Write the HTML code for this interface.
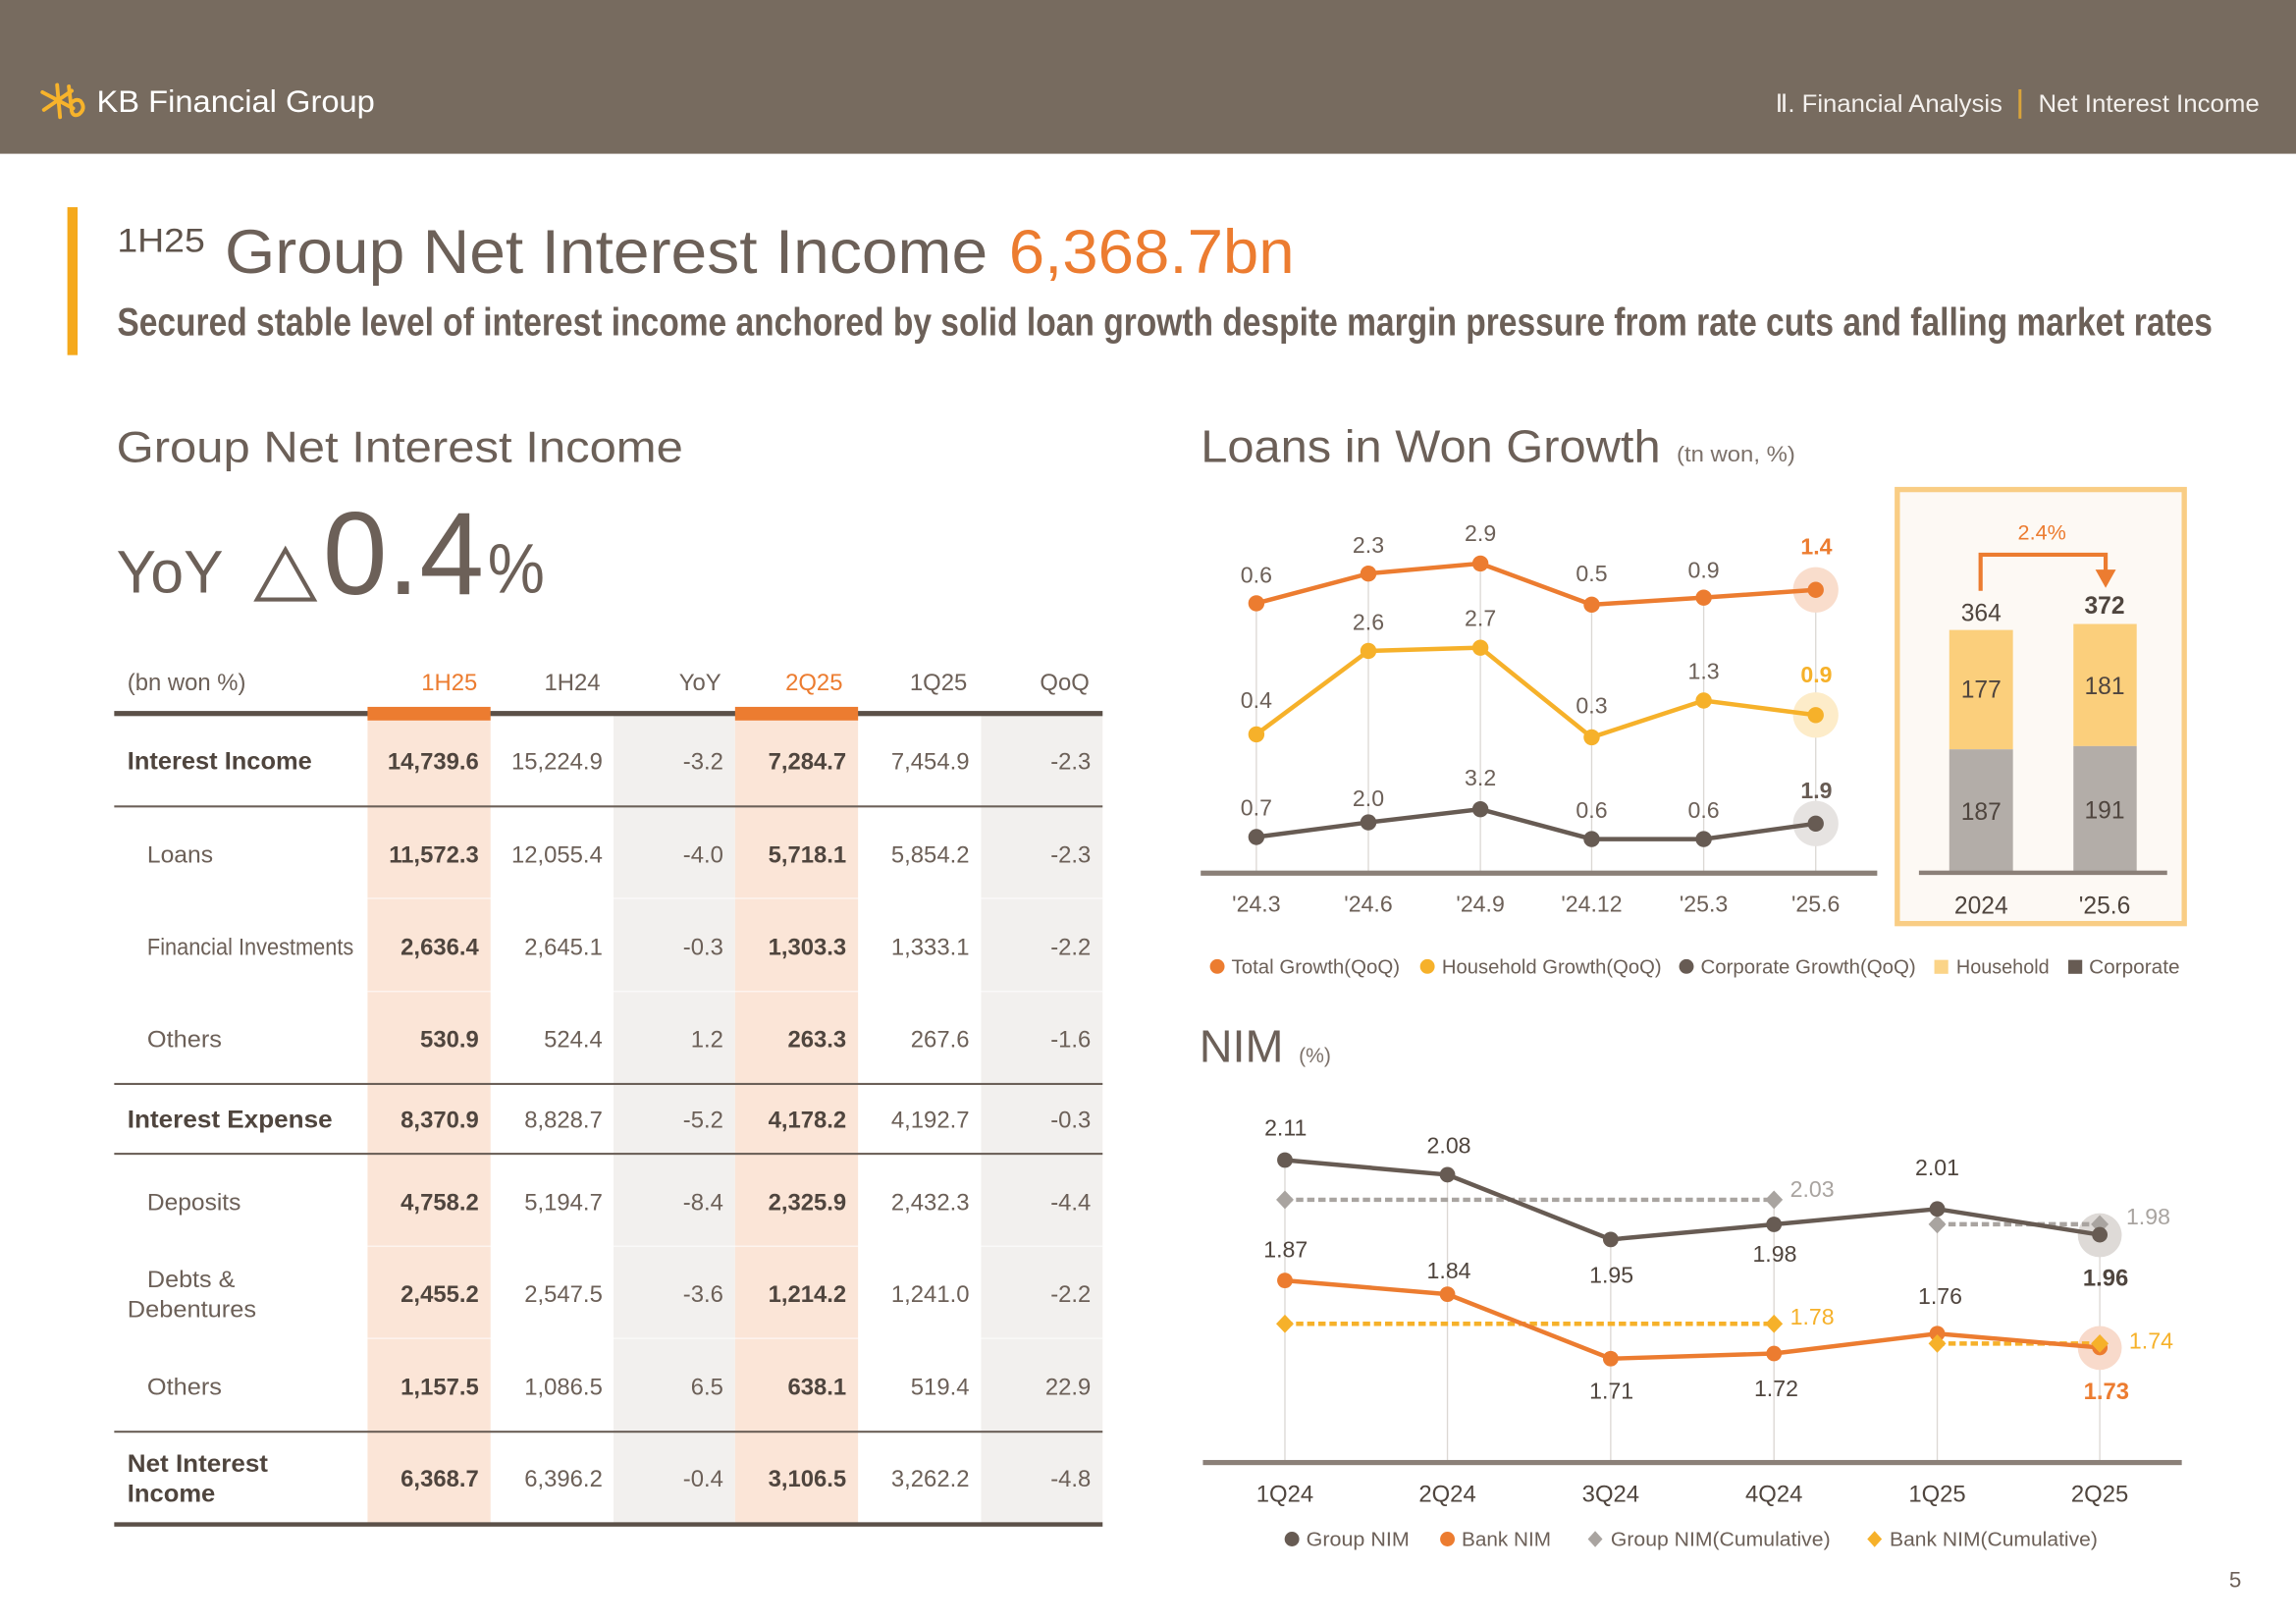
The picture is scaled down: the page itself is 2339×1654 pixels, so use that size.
<!DOCTYPE html>
<html><head><meta charset="utf-8"><title>KB Financial Group - Net Interest Income</title>
<style>
html,body{margin:0;padding:0;background:#fff;overflow:hidden;}
svg{display:block;}
text{font-family:"Liberation Sans",Arial,sans-serif;}
</style></head>
<body>
<svg xmlns="http://www.w3.org/2000/svg" width="2339" height="1654" viewBox="0 0 1568 1109" preserveAspectRatio="none">
<rect x="0" y="0" width="1568" height="1109" fill="#ffffff"/>
<!-- Header bar -->
<rect x="0" y="0" width="1568" height="105" fill="#776b5f"/>
<!-- logo star -->
<g stroke="#f7b32b" stroke-width="2.6" stroke-linecap="round" fill="none">
<line x1="39" y1="58" x2="41" y2="80"/>
<line x1="29" y1="63" x2="50" y2="74"/>
<line x1="30" y1="75" x2="49" y2="62"/>
<path d="M47 59 L49 76 Q50 80 54 78 Q59 74 55 69 Q52 67 49 70"/>
</g>
<text x="66" y="76.5" font-size="21" fill="#ffffff" textLength="190" lengthAdjust="spacingAndGlyphs">KB Financial Group</text>
<text x="1212.5" y="76.5" font-size="17" fill="#f4f1ee" textLength="155" lengthAdjust="spacingAndGlyphs">Ⅱ. Financial Analysis</text>
<rect x="1378.5" y="61" width="2" height="20" fill="#d9a43a"/>
<text x="1392" y="76.5" font-size="17" fill="#f4f1ee" textLength="151" lengthAdjust="spacingAndGlyphs">Net Interest Income</text>

<!-- Title -->
<rect x="46" y="141.5" width="7" height="101" fill="#f5a91c"/>
<text x="80" y="172" font-size="23" fill="#5f544c" textLength="60" lengthAdjust="spacingAndGlyphs">1H25</text>
<text x="153.5" y="186.5" font-size="42" fill="#6c6058" textLength="521" lengthAdjust="spacingAndGlyphs">Group Net Interest Income</text>
<text x="689" y="186.5" font-size="42" fill="#ec7c30" textLength="195" lengthAdjust="spacingAndGlyphs">6,368.7bn</text>
<text x="80" y="229" font-size="27" font-weight="bold" fill="#6c6058" textLength="1431" lengthAdjust="spacingAndGlyphs">Secured stable level of interest income anchored by solid loan growth despite margin pressure from rate cuts and falling market rates</text>

<!-- Left section heading -->
<text x="79.5" y="315.5" font-size="30" fill="#6c6058" textLength="387" lengthAdjust="spacingAndGlyphs">Group Net Interest Income</text>
<text x="79.5" y="404.5" font-size="41" fill="#6c6058" textLength="73" lengthAdjust="spacingAndGlyphs">YoY</text>
<text x="173" y="404.5" font-size="50" fill="#6c6058" textLength="44" lengthAdjust="spacingAndGlyphs">△</text>
<text x="220.5" y="405.5" font-size="80" fill="#6c6058" textLength="110" lengthAdjust="spacingAndGlyphs">0.4</text>
<text x="333" y="404.5" font-size="48" fill="#6c6058" textLength="39" lengthAdjust="spacingAndGlyphs">%</text>

<!-- Table bands -->
<rect x="251" y="487" width="84" height="553" fill="#fbe5d7"/>
<rect x="419" y="487" width="83" height="553" fill="#f2f0ee"/>
<rect x="502" y="487" width="84" height="553" fill="#fbe5d7"/>
<rect x="670" y="487" width="83" height="553" fill="#f2f0ee"/>
<g stroke="#ffffff" stroke-width="1" opacity="0.6">
<line x1="251" y1="613.5" x2="753" y2="613.5"/>
<line x1="251" y1="677" x2="753" y2="677"/>
<line x1="251" y1="851" x2="753" y2="851"/>
<line x1="251" y1="914" x2="753" y2="914"/>
</g>
<!-- Table lines -->
<rect x="78" y="485.5" width="675" height="3.5" fill="#5b5048"/>
<rect x="251" y="482.7" width="84" height="9.3" fill="#ec7c30"/>
<rect x="502" y="482.7" width="84" height="9.3" fill="#ec7c30"/>
<rect x="78" y="550" width="675" height="1.4" fill="#6b6058"/>
<rect x="78" y="739.5" width="675" height="1.4" fill="#6b6058"/>
<rect x="78" y="787.2" width="675" height="1.4" fill="#6b6058"/>
<rect x="78" y="977" width="675" height="1.4" fill="#6b6058"/>
<rect x="78" y="1039.5" width="675" height="3" fill="#5b5048"/>

<!-- Table header -->
<g font-size="16" fill="#6c6058">
<text x="87" y="471.5">(bn won %)</text>
<g text-anchor="end">
<text x="326" y="471.5" fill="#ec7c30">1H25</text>
<text x="410" y="471.5">1H24</text>
<text x="492.5" y="471.5">YoY</text>
<text x="575.5" y="471.5" fill="#ec7c30">2Q25</text>
<text x="660.5" y="471.5">1Q25</text>
<text x="744" y="471.5">QoQ</text>
</g>
</g>

<!-- Table labels -->
<g fill="#4f453e" font-size="17" font-weight="bold">
<text x="87" y="525.5" textLength="126" lengthAdjust="spacingAndGlyphs">Interest Income</text>
<text x="87" y="770" textLength="140" lengthAdjust="spacingAndGlyphs">Interest Expense</text>
<text x="87" y="1005" textLength="96" lengthAdjust="spacingAndGlyphs">Net Interest</text>
<text x="87" y="1025.5" textLength="60" lengthAdjust="spacingAndGlyphs">Income</text>
</g>
<g fill="#6c6058" font-size="16">
<text x="100.5" y="589" textLength="45" lengthAdjust="spacingAndGlyphs">Loans</text>
<text x="100.5" y="652" textLength="141" lengthAdjust="spacingAndGlyphs">Financial Investments</text>
<text x="100.5" y="715" textLength="51" lengthAdjust="spacingAndGlyphs">Others</text>
<text x="100.5" y="826.5" textLength="64" lengthAdjust="spacingAndGlyphs">Deposits</text>
<text x="100.5" y="879" textLength="60" lengthAdjust="spacingAndGlyphs">Debts &amp;</text>
<text x="87" y="899.5" textLength="88" lengthAdjust="spacingAndGlyphs">Debentures</text>
<text x="100.5" y="952.5" textLength="51" lengthAdjust="spacingAndGlyphs">Others</text>
</g>

<!-- Table numbers -->
<g font-size="16" text-anchor="end">
<g font-weight="bold" fill="#4f453e">
<text x="327" y="525.5">14,739.6</text>
<text x="327" y="589">11,572.3</text>
<text x="327" y="652">2,636.4</text>
<text x="327" y="715">530.9</text>
<text x="327" y="770">8,370.9</text>
<text x="327" y="826.5">4,758.2</text>
<text x="327" y="889">2,455.2</text>
<text x="327" y="952.5">1,157.5</text>
<text x="327" y="1015">6,368.7</text>
<text x="578" y="525.5">7,284.7</text>
<text x="578" y="589">5,718.1</text>
<text x="578" y="652">1,303.3</text>
<text x="578" y="715">263.3</text>
<text x="578" y="770">4,178.2</text>
<text x="578" y="826.5">2,325.9</text>
<text x="578" y="889">1,214.2</text>
<text x="578" y="952.5">638.1</text>
<text x="578" y="1015">3,106.5</text>
</g>
<g fill="#6c6058">
<text x="411.5" y="525.5">15,224.9</text>
<text x="411.5" y="589">12,055.4</text>
<text x="411.5" y="652">2,645.1</text>
<text x="411.5" y="715">524.4</text>
<text x="411.5" y="770">8,828.7</text>
<text x="411.5" y="826.5">5,194.7</text>
<text x="411.5" y="889">2,547.5</text>
<text x="411.5" y="952.5">1,086.5</text>
<text x="411.5" y="1015">6,396.2</text>
<text x="494" y="525.5">-3.2</text>
<text x="494" y="589">-4.0</text>
<text x="494" y="652">-0.3</text>
<text x="494" y="715">1.2</text>
<text x="494" y="770">-5.2</text>
<text x="494" y="826.5">-8.4</text>
<text x="494" y="889">-3.6</text>
<text x="494" y="952.5">6.5</text>
<text x="494" y="1015">-0.4</text>
<text x="662" y="525.5">7,454.9</text>
<text x="662" y="589">5,854.2</text>
<text x="662" y="652">1,333.1</text>
<text x="662" y="715">267.6</text>
<text x="662" y="770">4,192.7</text>
<text x="662" y="826.5">2,432.3</text>
<text x="662" y="889">1,241.0</text>
<text x="662" y="952.5">519.4</text>
<text x="662" y="1015">3,262.2</text>
<text x="745" y="525.5">-2.3</text>
<text x="745" y="589">-2.3</text>
<text x="745" y="652">-2.2</text>
<text x="745" y="715">-1.6</text>
<text x="745" y="770">-0.3</text>
<text x="745" y="826.5">-4.4</text>
<text x="745" y="889">-2.2</text>
<text x="745" y="952.5">22.9</text>
<text x="745" y="1015">-4.8</text>
</g>
</g>

<!-- Loans in Won Growth -->
<text x="820" y="315.5" font-size="31" fill="#6c6058" textLength="314" lengthAdjust="spacingAndGlyphs">Loans in Won Growth</text>
<text x="1145" y="315" font-size="15" fill="#7c716a" textLength="81" lengthAdjust="spacingAndGlyphs">(tn won, %)</text>

<g stroke="#dcd8d4" stroke-width="0.9">
<line x1="858" y1="412" x2="858" y2="596"/>
<line x1="934.5" y1="391.7" x2="934.5" y2="596"/>
<line x1="1011" y1="384.8" x2="1011" y2="596"/>
<line x1="1087" y1="412.9" x2="1087" y2="596"/>
<line x1="1163.5" y1="408.1" x2="1163.5" y2="596"/>
<line x1="1240" y1="402.8" x2="1240" y2="596"/>
</g>
<rect x="820" y="594.5" width="462" height="3.5" fill="#8b8078"/>

<circle cx="1240" cy="402.8" r="15.5" fill="#f9ddcc"/>
<circle cx="1240" cy="488.3" r="15.5" fill="#fdecc9"/>
<circle cx="1240" cy="562.4" r="15.5" fill="#e6e3e1"/>

<polyline points="858,412 934.5,391.7 1011,384.8 1087,412.9 1163.5,408.1 1240,402.8" fill="none" stroke="#ec7c30" stroke-width="3"/>
<polyline points="858,501.5 934.5,444.5 1011,442.3 1087,503.5 1163.5,478.4 1240,488.3" fill="none" stroke="#f6b12a" stroke-width="3"/>
<polyline points="858,571.6 934.5,561.6 1011,552.6 1087,573 1163.5,573 1240,562.4" fill="none" stroke="#675b53" stroke-width="3"/>
<g fill="#ec7c30">
<circle cx="858" cy="412" r="5.5"/><circle cx="934.5" cy="391.7" r="5.5"/><circle cx="1011" cy="384.8" r="5.5"/><circle cx="1087" cy="412.9" r="5.5"/><circle cx="1163.5" cy="408.1" r="5.5"/><circle cx="1240" cy="402.8" r="5.5"/>
</g>
<g fill="#f6b12a">
<circle cx="858" cy="501.5" r="5.5"/><circle cx="934.5" cy="444.5" r="5.5"/><circle cx="1011" cy="442.3" r="5.5"/><circle cx="1087" cy="503.5" r="5.5"/><circle cx="1163.5" cy="478.4" r="5.5"/><circle cx="1240" cy="488.3" r="5.5"/>
</g>
<g fill="#675b53">
<circle cx="858" cy="571.6" r="5.5"/><circle cx="934.5" cy="561.6" r="5.5"/><circle cx="1011" cy="552.6" r="5.5"/><circle cx="1087" cy="573" r="5.5"/><circle cx="1163.5" cy="573" r="5.5"/><circle cx="1240" cy="562.4" r="5.5"/>
</g>
<g font-size="15.5" fill="#6c6058" text-anchor="middle">
<text x="858" y="398">0.6</text>
<text x="934.5" y="377.5">2.3</text>
<text x="1011" y="369.5">2.9</text>
<text x="1087" y="397">0.5</text>
<text x="1163.5" y="394.5">0.9</text>
<text x="858" y="483.5">0.4</text>
<text x="934.5" y="430">2.6</text>
<text x="1011" y="427.5">2.7</text>
<text x="1087" y="487">0.3</text>
<text x="1163.5" y="463.5">1.3</text>
<text x="858" y="557">0.7</text>
<text x="934.5" y="550.5">2.0</text>
<text x="1011" y="536.5">3.2</text>
<text x="1087" y="558.5">0.6</text>
<text x="1163.5" y="558.5">0.6</text>
<text x="1240.5" y="378.5" font-weight="bold" fill="#ec7c30">1.4</text>
<text x="1240.5" y="466" font-weight="bold" fill="#f6b12a">0.9</text>
<text x="1240.5" y="545" font-weight="bold" fill="#675b53">1.9</text>
<text x="858" y="622.5">'24.3</text>
<text x="934.5" y="622.5">'24.6</text>
<text x="1011" y="622.5">'24.9</text>
<text x="1087" y="622.5">'24.12</text>
<text x="1163.5" y="622.5">'25.3</text>
<text x="1240" y="622.5">'25.6</text>
</g>

<!-- bar box -->
<rect x="1295.7" y="334.3" width="196" height="296.4" fill="#fdf9f4" stroke="#f9cd84" stroke-width="3.6"/>
<rect x="1331.2" y="430.2" width="43.5" height="81.5" fill="#fbcf7c"/>
<rect x="1331.2" y="511.7" width="43.5" height="84" fill="#b3ada8"/>
<rect x="1416" y="426.1" width="43.2" height="83.4" fill="#fbcf7c"/>
<rect x="1416" y="509.5" width="43.2" height="86.2" fill="#b3ada8"/>
<rect x="1310.5" y="594.5" width="169.5" height="3" fill="#8b8078"/>
<polyline points="1352.6,403.5 1352.6,378.8 1438,378.8 1438,391" fill="none" stroke="#ec7c30" stroke-width="2.8"/>
<polygon points="1431,389 1445,389 1438,401.5" fill="#ec7c30"/>
<g font-size="16.5" text-anchor="middle" fill="#4f453e">
<text x="1394.5" y="368.5" font-size="14.5" fill="#ec7c30">2.4%</text>
<text x="1353" y="424">364</text>
<text x="1437.3" y="419" font-weight="bold">372</text>
<text x="1353" y="476.5">177</text>
<text x="1437.3" y="474">181</text>
<text x="1353" y="560">187</text>
<text x="1437.3" y="559">191</text>
<text x="1353" y="624">2024</text>
<text x="1437.3" y="624">'25.6</text>
</g>

<!-- Loans legend -->
<g font-size="13.5" fill="#6c6058">
<circle cx="831.3" cy="660" r="5" fill="#ec7c30"/>
<text x="841" y="664.8" textLength="115" lengthAdjust="spacingAndGlyphs">Total Growth(QoQ)</text>
<circle cx="974.8" cy="660" r="5" fill="#f6b12a"/>
<text x="984.7" y="664.8" textLength="150" lengthAdjust="spacingAndGlyphs">Household Growth(QoQ)</text>
<circle cx="1151.7" cy="660" r="5" fill="#675b53"/>
<text x="1161.4" y="664.8" textLength="147" lengthAdjust="spacingAndGlyphs">Corporate Growth(QoQ)</text>
<rect x="1321" y="655.5" width="9.5" height="9.5" fill="#fbd488"/>
<text x="1336" y="664.8" textLength="63.5" lengthAdjust="spacingAndGlyphs">Household</text>
<rect x="1412.5" y="655.5" width="9.5" height="9.5" fill="#675b53"/>
<text x="1426.6" y="664.8" textLength="62" lengthAdjust="spacingAndGlyphs">Corporate</text>
</g>

<!-- NIM -->
<text x="819" y="725" font-size="31" fill="#6c6058" textLength="57.5" lengthAdjust="spacingAndGlyphs">NIM</text>
<text x="887" y="725.5" font-size="14" fill="#7c716a" textLength="22" lengthAdjust="spacingAndGlyphs">(%)</text>

<g stroke="#dcd8d4" stroke-width="0.9">
<line x1="877.5" y1="792" x2="877.5" y2="998"/>
<line x1="988.5" y1="802" x2="988.5" y2="998"/>
<line x1="1100" y1="846" x2="1100" y2="998"/>
<line x1="1211.5" y1="819" x2="1211.5" y2="998"/>
<line x1="1323" y1="825" x2="1323" y2="998"/>
<line x1="1434" y1="835" x2="1434" y2="998"/>
</g>
<rect x="821.5" y="997" width="668.5" height="3.5" fill="#8b8078"/>

<circle cx="1434" cy="843.5" r="15" fill="#dedad7"/>
<circle cx="1434" cy="920.5" r="15" fill="#f8dacb"/>

<!-- cumulative dashed -->
<g stroke-width="3" fill="none" stroke-dasharray="5 2.6">
<line x1="877.5" y1="819.3" x2="1211.5" y2="819.3" stroke="#a9a4a0"/>
<line x1="1323" y1="836" x2="1434" y2="836" stroke="#a9a4a0"/>
<line x1="877.5" y1="904" x2="1211.5" y2="904" stroke="#f6b12a"/>
<line x1="1323" y1="917.5" x2="1434" y2="917.5" stroke="#f6b12a"/>
</g>

<polyline points="877.5,792.2 988.5,802.2 1100,846.4 1211.5,836.1 1323,825.6 1434,843.2" fill="none" stroke="#675b53" stroke-width="3"/>
<polyline points="877.5,874.4 988.5,883.8 1100,927.8 1211.5,924.3 1323,910.7 1434,920.2" fill="none" stroke="#ec7c30" stroke-width="3"/>

<g fill="#a9a4a0">
<polygon points="877.5,813 883.5,819.3 877.5,825.6 871.5,819.3"/>
<polygon points="1211.5,813 1217.5,819.3 1211.5,825.6 1205.5,819.3"/>
<polygon points="1323,829.7 1329,836 1323,842.3 1317,836"/>
<polygon points="1434,829.7 1440,836 1434,842.3 1428,836"/>
</g>
<g fill="#675b53">
<circle cx="877.5" cy="792.2" r="5.3"/><circle cx="988.5" cy="802.2" r="5.3"/><circle cx="1100" cy="846.4" r="5.3"/><circle cx="1211.5" cy="836.1" r="5.3"/><circle cx="1323" cy="825.6" r="5.3"/><circle cx="1434" cy="843.2" r="5.3"/>
</g>
<g fill="#ec7c30">
<circle cx="877.5" cy="874.4" r="5.3"/><circle cx="988.5" cy="883.8" r="5.3"/><circle cx="1100" cy="927.8" r="5.3"/><circle cx="1211.5" cy="924.3" r="5.3"/><circle cx="1323" cy="910.7" r="5.3"/><circle cx="1434" cy="920.2" r="5.3"/>
</g>
<g fill="#f6b12a">
<polygon points="877.5,897.7 883.5,904 877.5,910.3 871.5,904"/>
<polygon points="1211.5,897.7 1217.5,904 1211.5,910.3 1205.5,904"/>
<polygon points="1323,911.2 1329,917.5 1323,923.8 1317,917.5"/>
<polygon points="1434,911.2 1440,917.5 1434,923.8 1428,917.5"/>
</g>

<g font-size="15.5" fill="#4f453e" text-anchor="middle">
<text x="878" y="775.5">2.11</text>
<text x="989.5" y="787.5">2.08</text>
<text x="1100.5" y="876">1.95</text>
<text x="1212" y="861.5">1.98</text>
<text x="1323" y="802.5">2.01</text>
<text x="1438" y="878" font-weight="bold" font-size="16">1.96</text>
<text x="878" y="858.5">1.87</text>
<text x="989.5" y="873">1.84</text>
<text x="1100.5" y="955">1.71</text>
<text x="1213" y="953.5">1.72</text>
<text x="1325" y="890.5">1.76</text>
<text x="1438.5" y="955.5" font-weight="bold" font-size="16" fill="#ec7c30">1.73</text>
</g>
<g font-size="15.5" text-anchor="start">
<text x="1222.5" y="817.5" fill="#a9a4a0">2.03</text>
<text x="1452" y="836" fill="#a9a4a0">1.98</text>
<text x="1222.5" y="904.5" fill="#f6b12a">1.78</text>
<text x="1454" y="921" fill="#f6b12a">1.74</text>
</g>
<g font-size="16" fill="#4f453e" text-anchor="middle">
<text x="877.5" y="1025.5">1Q24</text>
<text x="988.5" y="1025.5">2Q24</text>
<text x="1100" y="1025.5">3Q24</text>
<text x="1211.5" y="1025.5">4Q24</text>
<text x="1323" y="1025.5">1Q25</text>
<text x="1434" y="1025.5">2Q25</text>
</g>

<!-- NIM legend -->
<g font-size="13.5" fill="#6c6058">
<circle cx="882.3" cy="1051" r="5" fill="#675b53"/>
<text x="892" y="1055.8" textLength="70.5" lengthAdjust="spacingAndGlyphs">Group NIM</text>
<circle cx="988.5" cy="1051" r="5" fill="#ec7c30"/>
<text x="998.2" y="1055.8" textLength="61" lengthAdjust="spacingAndGlyphs">Bank NIM</text>
<polygon points="1089.4,1045.5 1094.4,1051 1089.4,1056.5 1084.4,1051" fill="#a9a4a0"/>
<text x="1100" y="1055.8" textLength="150" lengthAdjust="spacingAndGlyphs">Group NIM(Cumulative)</text>
<polygon points="1280.2,1045.5 1285.2,1051 1280.2,1056.5 1275.2,1051" fill="#f6b12a"/>
<text x="1290.5" y="1055.8" textLength="142" lengthAdjust="spacingAndGlyphs">Bank NIM(Cumulative)</text>
</g>

<text x="1526.5" y="1084" font-size="15" fill="#6c6058" text-anchor="middle">5</text>
</svg>
</body></html>
